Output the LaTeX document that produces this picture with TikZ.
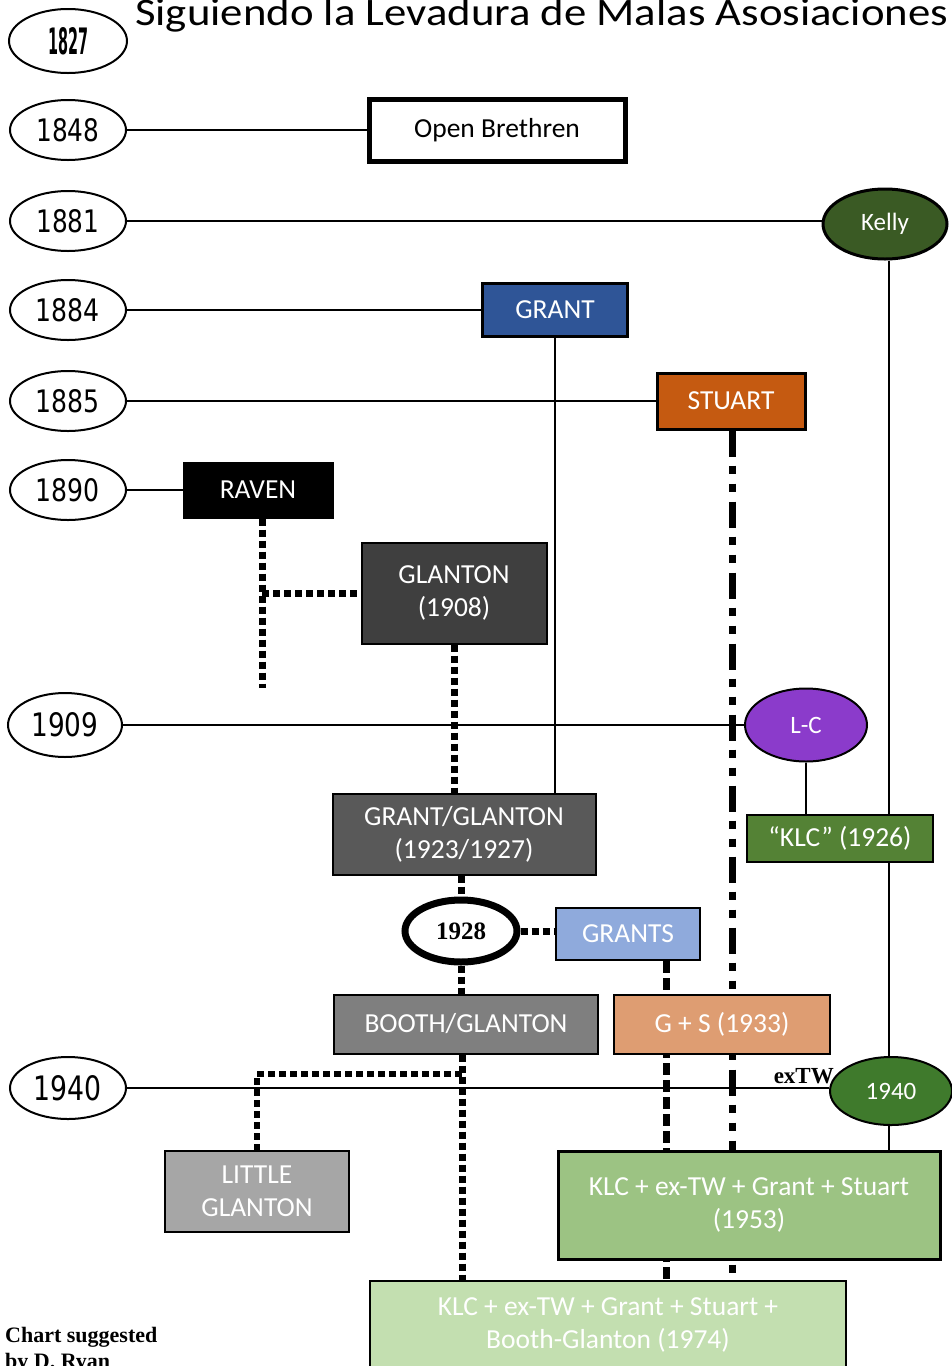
\documentclass[tikz,border=0pt]{standalone}
\usepackage{fontspec}
\usepackage{graphicx}
\setmainfont{Carlito}
\newfontfamily\yearfont{DejaVu Sans}
\newfontfamily\serifb{Liberation Serif}
\usetikzlibrary{shapes.geometric,backgrounds}
\newcommand\yrtext[3]{\resizebox{#2pt}{#3pt}{\yearfont #1}}
\definecolor{kellyg}{HTML}{3A5A24}
\definecolor{grantblue}{HTML}{2F5597}
\definecolor{stuartorange}{HTML}{C55A11}
\definecolor{glantongray}{HTML}{3F3F3F}
\definecolor{klcgreen}{HTML}{548235}
\definecolor{gggray}{HTML}{595959}
\definecolor{lcpurple}{HTML}{8B3BCB}
\definecolor{grantsblue}{HTML}{8FAADC}
\definecolor{boothgray}{HTML}{7F7F7F}
\definecolor{gsorange}{HTML}{DE9D72}
\definecolor{cfortygreen}{HTML}{3F7A2C}
\definecolor{lggray}{HTML}{A6A6A6}
\definecolor{klcfiftythree}{HTML}{9CC383}
\definecolor{klcseventyfour}{HTML}{C3DFB0}
\tikzset{
  yearnode/.style={ellipse, draw, line width=2pt, fill=white, inner sep=0pt,
    minimum width=116pt, minimum height=60pt},
  box/.style={rectangle, draw, line width=2pt, text=white, align=center, inner sep=0pt,
    font=\fontsize{27.5}{33}\selectfont},
  oval/.style={ellipse, draw, line width=2pt, text=white, inner sep=0pt,
    font=\fontsize{25}{28}\selectfont},
  conn/.style={line width=2.2pt},
  sq/.style={line width=7pt, dash pattern=on 7pt off 4pt},
  sqlong/.style={line width=7pt, dash pattern=on 12pt off 5pt},
  stu/.style={line width=7pt, dash pattern=on 26pt off 9pt on 8pt off 10pt on 8pt off 10pt},
  serifbold/.style={font=\serifb\bfseries\fontsize{#1}{26}\selectfont}
}
\begin{document}
\begin{tikzpicture}[x=1pt,y=-1pt]
\useasboundingbox (0,0) rectangle (952,1366);
\clip (0,0) rectangle (952,1366);

% title
\node[anchor=base west, inner sep=0pt] (title) at (135,25)
  {\resizebox{813pt}{27pt}{Siguiendo la Levadura de Malas Asosiaciones}};

% year ellipses
\node[yearnode, minimum width=118pt, minimum height=64pt] (y1827) at (68,41) {\resizebox{40pt}{27pt}{\yearfont\bfseries 1827}};
\node[yearnode] (y1848) at (68,130) {\yrtext{1848}{63}{23}};
\node[yearnode] (y1881) at (68,221) {\yrtext{1881}{63}{23}};
\node[yearnode] (y1884) at (68,310) {\yrtext{1884}{64}{23}};
\node[yearnode] (y1885) at (68,401) {\yrtext{1885}{64}{23}};
\node[yearnode] (y1890) at (68,490) {\yrtext{1890}{64}{23}};
\node[yearnode, minimum width=114pt, minimum height=64pt] (y1909) at (65,725) {\yrtext{1909}{67}{24}};
\node[yearnode, minimum height=62pt] (y1940) at (68,1088) {\yrtext{1940}{68}{25}};

% groups
\node[box, line width=5pt, fill=white, text=black, minimum width=256pt, minimum height=62pt] (ob) at (497,130) {Open Brethren};
\node[oval, line width=3pt, fill=kellyg, minimum width=124pt, minimum height=70pt] (kelly) at (885,224) {Kelly};
\node[box, line width=3pt, fill=grantblue, minimum width=145pt, minimum height=53pt] (grant) at (555,310) {GRANT};
\node[box, line width=3pt, fill=stuartorange, minimum width=148pt, minimum height=56pt] (stuart) at (731,401) {STUART};
\node[box, line width=3pt, fill=black, minimum width=148pt, minimum height=54pt] (raven) at (258,490) {RAVEN};
\node[box, fill=glantongray, minimum width=185pt, minimum height=101pt] (glanton) at (454,593) {GLANTON\\(1908)};
\node[oval, fill=lcpurple, minimum width=122pt, minimum height=73pt] (lc) at (806,725) {L-C};
\node[box, fill=klcgreen, minimum width=186pt, minimum height=47pt] (klc26) at (840,838) {“KLC” (1926)};
\node[box, fill=gggray, minimum width=263pt, minimum height=81pt] (gg) at (464,834) {GRANT/GLANTON\\(1923/1927)};
\node[ellipse, draw, line width=7pt, fill=white, inner sep=0pt, minimum width=112pt, minimum height=62pt,
  serifbold=25] (y1928) at (461,931) {1928};
\node[box, fill=grantsblue, minimum width=144pt, minimum height=52pt] (grants) at (628,934) {GRANTS};
\node[box, fill=boothgray, minimum width=264pt, minimum height=59pt] (booth) at (466,1024) {BOOTH/GLANTON};
\node[box, fill=gsorange, minimum width=216pt, minimum height=59pt] (gs) at (722,1024) {G + S (1933)};
\node[oval, fill=cfortygreen, minimum width=122pt, minimum height=68pt] (c1940) at (891,1091) {1940};
\node[serifbold=23, anchor=base east, inner sep=0pt] (extw) at (834,1083) {exTW};
\node[box, fill=lggray, minimum width=184pt, minimum height=81pt] (lg) at (257,1191) {LITTLE\\GLANTON};
\node[box, line width=3pt, fill=klcfiftythree, minimum width=382pt, minimum height=108pt] (klc53) at (749,1205)
  {KLC + ex-TW + Grant + Stuart\\(1953)};
\node[box, fill=klcseventyfour, minimum width=476pt, minimum height=88pt] (klc74) at (608,1325)
  {KLC + ex-TW + Grant + Stuart +\\Booth-Glanton (1974)};
\node[serifbold=22, anchor=north west, align=left, inner sep=0pt] (credit) at (5,1327)
  {Chart suggested\\by D. Ryan};

% connectors
\coordinate (rv) at (262,688);
\coordinate (kx) at (889,0);
\coordinate (gx) at (666,0);
\coordinate (sx) at (732,0);
\coordinate (bx) at (462,1074);
\begin{scope}[on background layer]
  \fill[white] (0,0) rectangle (952,1366);
  \draw[conn] (y1848) -- (ob);
  \draw[conn] (y1881.east) -- (y1881.east -| kelly.west);
  \draw[conn] (y1884) -- (grant);
  \draw[conn] (y1885) -- (stuart);
  \draw[conn] (y1890) -- (raven);
  \draw[conn] (y1909) -- (lc);
  \draw[conn] (y1940.east) -- (y1940.east -| c1940.west);
  \draw[conn] (grant.south) -- (grant.south |- gg.north);
  \draw[conn] (lc.south) -- (lc.south |- klc26.north);
  \draw[conn] (kelly.south -| kx) -- (klc53.north -| kx);
  \draw[sq] (raven.south -| rv) -- (rv);
  \draw[sq] (rv |- glanton.west) -- (glanton.west);
  \draw[sq] (glanton.south) -- (glanton.south |- gg.north);
  \draw[sq] (gg.south -| y1928.north) -- (y1928.north);
  \draw[sq] (y1928.east) -- (y1928.east -| grants.west);
  \draw[sq] (y1928.south) -- (y1928.south |- booth.north);
  \draw[sqlong] (grants.south -| gx) -- (klc74.north -| gx);
  \draw[stu] (stuart.south -| sx) -- (klc74.north -| sx);
  \draw[sq] (booth.south -| bx) -- (klc74.north -| bx);
  \draw[sq, line width=6pt] (bx) -- (bx -| lg.north) -- (lg.north);
\end{scope}
\end{tikzpicture}
\end{document}
